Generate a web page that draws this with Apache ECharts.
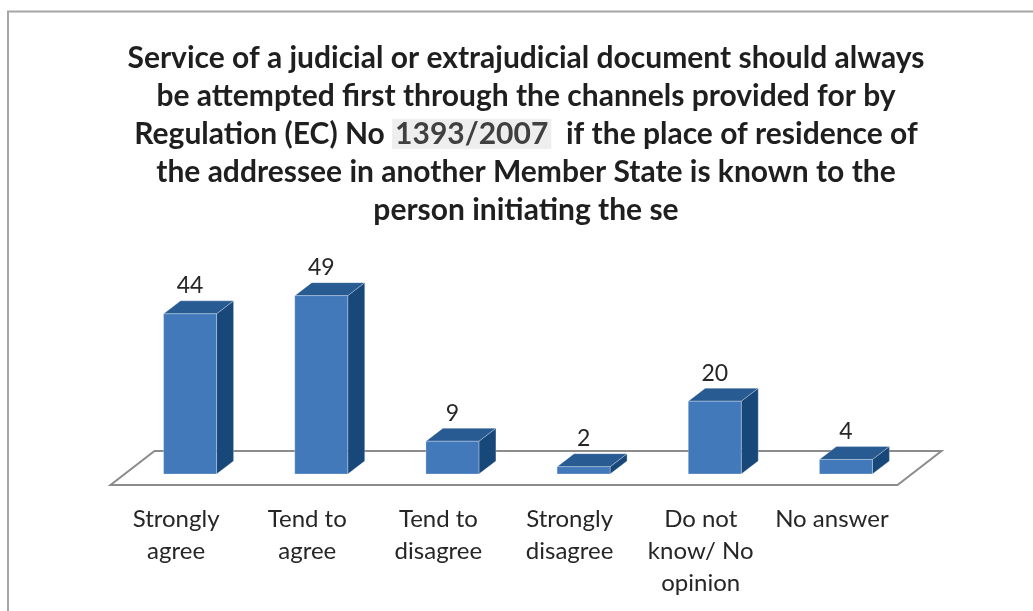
<!DOCTYPE html>
<html>
<head>
<meta charset="utf-8">
<script src="https://cdn.jsdelivr.net/npm/echarts@6/dist/echarts.min.js"></script>
<style>
  html, body { margin: 0; padding: 0; background: #ffffff; }
  #chart { width: 1033px; height: 611px; }
</style>
</head>
<body>
<div id="chart"></div>
<script>
// ---- data ----
var categories = ['Strongly\nagree', 'Tend to\nagree', 'Tend to\ndisagree', 'Strongly\ndisagree', 'Do not\nknow/ No\nopinion', 'No answer'];
var values = [44, 49, 9, 2, 20, 4];
var titleLines = [
  'Service of a judicial or extrajudicial document should always',
  'be attempted first through the channels provided for by',
  'Regulation (EC) No {h|1393/2007}  if the place of residence of',
  'the addressee in another Member State is known to the',
  'person initiating the se'
];

// ---- style constants ----
var DX = 17, DY = -13;          // 3D depth offset
var BAR_RATIO = 0.404;
var FRONT = '#4279BB', TOP = '#285B91', SIDE = '#18477A';
var EDGE = 'rgba(255,255,255,0.35)';

var chart = echarts.init(document.getElementById('chart'));

function renderBar(params, api) {
  var idx = api.value(0), v = api.value(1);
  var top = api.coord([idx, v]);
  var base = api.coord([idx, 0]);
  var bw = api.size([1, 0])[0] * BAR_RATIO;
  var x1 = top[0] - bw / 2, x2 = top[0] + bw / 2;
  var yt = top[1], yb = base[1];
  return {
    type: 'group',
    children: [
      { type: 'polygon', shape: { points: [[x2, yt], [x2 + DX, yt + DY], [x2 + DX, yb + DY], [x2, yb]] },
        style: { fill: SIDE, stroke: EDGE, lineWidth: 0.8 } },
      { type: 'polygon', shape: { points: [[x1, yt], [x2, yt], [x2 + DX, yt + DY], [x1 + DX, yt + DY]] },
        style: { fill: TOP, stroke: EDGE, lineWidth: 0.8 } },
      { type: 'rect', shape: { x: x1, y: yt, width: bw, height: yb - yt },
        style: { fill: FRONT, stroke: EDGE, lineWidth: 0.8 } },
      { type: 'text', style: { text: String(v), x: top[0], y: yt - 28, align: 'center', verticalAlign: 'middle',
        fontFamily: 'Lato', fontSize: 23, fill: '#262626' } }
    ]
  };
}

function renderFloor(params, api) {
  var n = categories.length;
  var band = api.size([1, 0])[0];
  var l = api.coord([0, 0]); var r = api.coord([n - 1, 0]);
  var xl = l[0] - band / 2, xr = r[0] + band / 2, y = l[1];
  var fx = -14, fy = 11, bx = 30, by = -23;
  return {
    type: 'polygon',
    shape: { points: [[xl + fx, y + fy], [xr + fx, y + fy], [xr + bx, y + by], [xl + bx, y + by]] },
    style: { fill: '#ffffff', stroke: '#8c8c8c', lineWidth: 2 }
  };
}

var option = {
  backgroundColor: '#ffffff',
  animation: false,
  graphic: [
    { type: 'rect', shape: { x: 8, y: 11.5, width: 1200, height: 800 },
      style: { fill: 'none', stroke: '#a6a6a6', lineWidth: 2 }, z: -10 }
  ],
  title: {
    text: titleLines.join('\n'),
    left: 521,
    top: 34,
    textAlign: 'center',
    textStyle: {
      fontFamily: 'Lato', fontWeight: 'bold', fontSize: 30, color: '#1f1f1f', lineHeight: 38,
      rich: {
        h: { fontFamily: 'Lato', fontWeight: 'bold', fontSize: 30, color: '#404040', lineHeight: 38,
             backgroundColor: '#eeeeee', padding: [0, 3, 0, 3] }
      }
    }
  },
  grid: { left: 124.5, right: 121.5, top: 292, bottom: 137, containLabel: false },
  xAxis: {
    type: 'category',
    data: categories,
    axisLine: { show: false },
    axisTick: { show: false },
    axisLabel: {
      interval: 0, margin: 29, fontFamily: 'Lato', fontSize: 24, color: '#262626', lineHeight: 32,
      padding: [0, 28, 0, 0]
    }
  },
  yAxis: { type: 'value', min: 0, max: 50, show: false, splitLine: { show: false } },
  series: [
    { type: 'custom', renderItem: renderFloor, data: [[0, 0]], encode: { x: 0, y: 1 }, z: 1, silent: true },
    { type: 'custom', renderItem: renderBar, data: values.map(function (v, i) { return [i, v]; }),
      encode: { x: 0, y: 1 }, z: 2 }
  ]
};
chart.setOption(option);
</script>
</body>
</html>
